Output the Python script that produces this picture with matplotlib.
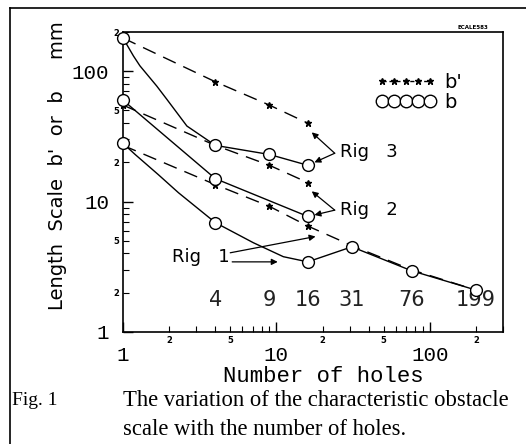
import numpy as np
import matplotlib
matplotlib.use("Agg")
import matplotlib.pyplot as plt
from matplotlib.ticker import LogLocator, FuncFormatter
from matplotlib.lines import Line2D

# data (number of holes vs length scale, mm)
rig3_x = [1, 4, 9, 16]
rig3_b = [180, 27, 23, 19]
rig3_bp = [180, 83, 55, 40]

rig2_x_b = [1, 4, 16]
rig2_b = [60, 15, 7.7]
rig2_x_bp = [1, 4, 9, 16]
rig2_bp = [55, 27, 19, 14]

rig1_x_b = [1, 4, 16, 31, 76, 199]
rig1_b = [28, 6.9, 3.45, 4.5, 2.95, 2.1]
rig1_x_bp = [1, 4, 9, 16, 31, 76, 199]
rig1_bp = [27, 13.5, 9.2, 6.5, 4.6, 3.0, 2.1]

# hand-drawn smooth curves through the b points
rig3_curve_x = [1, 1.17, 1.29, 1.66, 1.93, 2.61, 4, 9, 16]
rig3_curve_y = [180, 131, 110, 77, 61, 38, 27, 23, 19]
rig1_curve_x = [1, 1.2, 1.7, 2.3, 4, 7.07, 11.1, 16, 31, 76, 199]
rig1_curve_y = [28, 23, 16.1, 11.7, 6.9, 4.84, 3.78, 3.45, 4.5, 2.95, 2.1]

hole_labels = [4, 9, 16, 31, 76, 199]

fig = plt.figure(figsize=(5.26, 4.44), dpi=100)
ax = fig.add_axes([0.2338, 0.2523, 0.7225, 0.6756])

mk = dict(ls="none", marker="o", mfc="white", mec="black", ms=8.5, mew=1.0, clip_on=False, zorder=4)
dash = dict(color="black", lw=1.0, dashes=(10, 6), marker="*", ms=5, clip_on=False)

ax.plot(rig3_x, rig3_bp, **dash)
ax.plot(rig2_x_bp, rig2_bp, **dash)
ax.plot(rig1_x_bp, rig1_bp, **dash)

ax.plot(rig3_curve_x, rig3_curve_y, color="black", lw=1.0, clip_on=False)
ax.plot(rig2_x_b, rig2_b, color="black", lw=1.0, clip_on=False)
ax.plot(rig1_curve_x, rig1_curve_y, color="black", lw=1.0, clip_on=False)
ax.plot(rig3_x, rig3_b, **mk)
ax.plot(rig2_x_b, rig2_b, **mk)
ax.plot(rig1_x_b, rig1_b, **mk)

ax.set_xscale("log")
ax.set_yscale("log")
ax.set_xlim(1, 300)
ax.set_ylim(1, 200)


def minor_lab(v, p):
    m = int(round(v / 10 ** np.floor(np.log10(v))))
    return str(m) if m in (2, 5) else ""


for axis in (ax.xaxis, ax.yaxis):
    axis.set_major_locator(LogLocator(base=10, numticks=10))
    axis.set_minor_locator(LogLocator(base=10, subs=range(2, 10), numticks=20))
    axis.set_major_formatter(FuncFormatter(lambda v, p: "%d" % v))
    axis.set_minor_formatter(FuncFormatter(minor_lab))

ax.tick_params(which="both", direction="in", top=False, right=False)
ax.tick_params(which="major", length=7, width=1.0, labelsize=15, pad=10)
ax.tick_params(which="minor", length=4, width=0.8, labelsize=6, pad=3)
for lab in ax.get_xticklabels() + ax.get_yticklabels():
    lab.set_family("Liberation Mono")
for lab in ax.get_xticklabels(minor=True) + ax.get_yticklabels(minor=True):
    lab.set_fontweight("bold")
for s in ax.spines.values():
    s.set_linewidth(1.2)

ax.set_xlabel("Number of holes", family="Liberation Mono", fontsize=16, labelpad=1)
ax.xaxis.label.set_x(0.527)
ax.set_ylabel("Length  Scale  b'  or  b     mm", fontsize=14, labelpad=3)
ax.yaxis.label.set_y(0.553)

# hole counts written under the curves
for h in hole_labels:
    ax.text(h, 1.76, str(h), ha="center", va="center", fontsize=15, color="#222222")

# Rig annotations
arr = dict(arrowstyle="-|>", lw=0.9, color="black", mutation_scale=9, shrinkA=0, shrinkB=0)
ax.text(26, 24, "Rig   3", fontsize=13, va="center")
ax.annotate("", xy=(17, 34), xytext=(24, 23.5), arrowprops=arr)
ax.annotate("", xy=(17.7, 20), xytext=(24, 23.5), arrowprops=arr)
ax.text(26, 8.6, "Rig   2", fontsize=13, va="center")
ax.annotate("", xy=(17, 12), xytext=(24, 8.6), arrowprops=arr)
ax.annotate("", xy=(17.7, 7.9), xytext=(24, 8.6), arrowprops=arr)
ax.text(2.1, 3.75, "Rig   1", fontsize=13, va="center")
ax.annotate("", xy=(18, 5.4), xytext=(5.0, 4.05), arrowprops=arr)
ax.annotate("", xy=(10.2, 3.45), xytext=(5.15, 3.45), arrowprops=arr)

# legend
h_bp = Line2D([], [], color="black", lw=1.0, dashes=(3, 2), marker="*", ms=5)
h_b = Line2D([], [], color="black", lw=1.0, marker="o", mfc="white", mec="black", ms=9)
ax.legend([h_bp, h_b], ["b'", "b"], loc="upper left", bbox_to_anchor=(0.64, 0.897),
          frameon=False, numpoints=5, handlelength=3.1, handletextpad=0.4,
          labelspacing=0.05, borderpad=0, fontsize=14)

fig.text(0.87, 0.935, "ECALE583", fontsize=4, fontweight="bold")

# caption
fig.text(0.023, 0.099, "Fig. 1", family="Liberation Serif", fontsize=14, va="center")
fig.text(0.234, 0.099, "The variation of the characteristic obstacle",
         family="Liberation Serif", fontsize=16.3, va="center")
fig.text(0.234, 0.032, "scale with the number of holes.",
         family="Liberation Serif", fontsize=16.3, va="center")

# outer frame of the scanned page
fig.add_artist(Line2D([0.019, 0.019], [0, 0.982], color="black", lw=1.2, transform=fig.transFigure))
fig.add_artist(Line2D([0.019, 1.0], [0.982, 0.982], color="black", lw=1.2, transform=fig.transFigure))

fig.savefig("out.png", dpi=100)
